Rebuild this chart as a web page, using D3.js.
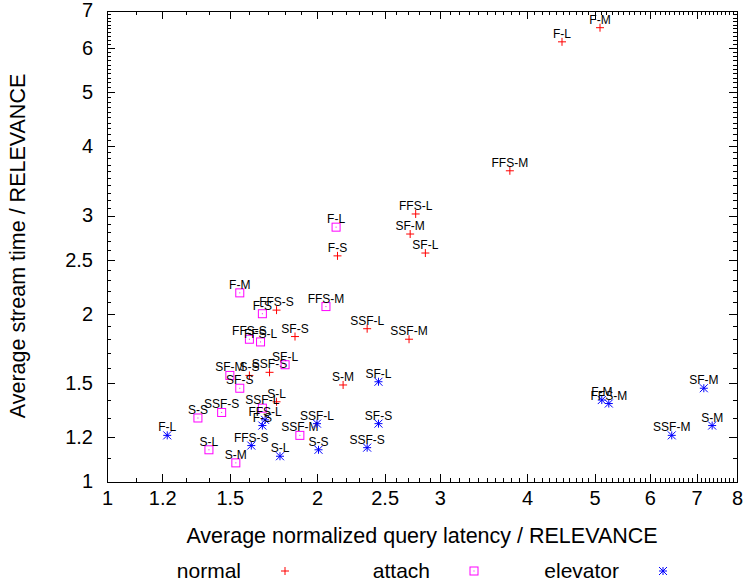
<!DOCTYPE html>
<html>
<head>
<meta charset="utf-8">
<script src="https://cdn.jsdelivr.net/npm/d3@7"></script>
<style>
  body { margin: 0; background: #fff; }
  svg { display: block; font-family: "Liberation Sans", Arial, sans-serif; }
</style>
</head>
<body>
<svg id="chart" width="744" height="586"></svg>
<script>
// series data (x = latency, y = stream time)
const normalLabels = ['F-M', 'F-L', 'FFS-M', 'FFS-L', 'SF-M', 'SF-L', 'F-S', 'FFS-S', 'SSF-L', 'SSF-M', 'SF-S', 'SSF-S', 'S-S', 'S-M', 'S-L'];
const normalX = [5.09, 4.49, 3.78, 2.77, 2.72, 2.86, 2.14, 1.75, 2.36, 2.71, 1.86, 1.71, 1.60, 2.18, 1.75];
const normalY = [6.52, 6.15, 3.61, 3.02, 2.78, 2.57, 2.54, 2.03, 1.88, 1.80, 1.82, 1.57, 1.55, 1.49, 1.39];

const attachLabels = ['F-L', 'F-M', 'F-S', 'FFS-M', 'FFS-S', 'FFS-L', 'SF-L', 'SF-M', 'SF-S', 'S-S', 'SSF-S', 'SSF-L', 'SSF-M', 'S-L', 'S-M'];
const attachX = [2.13, 1.55, 1.67, 2.06, 1.60, 1.66, 1.80, 1.50, 1.55, 1.35, 1.46, 1.67, 1.89, 1.40, 1.53];
const attachY = [2.86, 2.18, 2.00, 2.06, 1.80, 1.78, 1.62, 1.55, 1.47, 1.30, 1.33, 1.354, 1.21, 1.14, 1.08];

const elevatorLabels = ['F-L', 'FFS-S', 'S-L', 'S-S', 'SSF-S', 'SSF-L', 'SF-S', 'SF-L', 'F-S', 'FFS-L', 'F-M', 'FFS-M', 'SSF-M', 'SF-M', 'S-M'];
const elevatorX = [1.22, 1.61, 1.77, 2.01, 2.36, 2.00, 2.45, 2.45, 1.67, 1.685, 5.12, 5.24, 6.45, 7.17, 7.37];
const elevatorY = [1.21, 1.16, 1.11, 1.14, 1.15, 1.27, 1.27, 1.51, 1.26, 1.29, 1.40, 1.38, 1.21, 1.47, 1.26];

const seriesNames = ['normal', 'attach', 'elevator'];
const seriesColors = ['#ff0000', '#ff00ff', '#0000ff'];

const xTicks = [1, 1.2, 1.5, 2, 2.5, 3, 4, 5, 6, 7, 8];
const yTicks = [1, 1.2, 1.5, 2, 2.5, 3, 4, 5, 6, 7];

const xTitle = 'Average normalized query latency / RELEVANCE';
const yTitle = 'Average stream time / RELEVANCE';

const margin = { left: 107, top: 10.5, right: 7, bottom: 104.5 };
const W = 744, H = 586;
const pw = W - margin.left - margin.right;
const ph = H - margin.top - margin.bottom;

const svg = d3.select('#chart');
const g = svg.append('g').attr('transform', `translate(${margin.left},${margin.top})`);

const x = d3.scaleLog().domain([1, 8]).range([0, pw]);
const y = d3.scaleLog().domain([1, 7]).range([ph, 0]);

// minor ticks every 0.1
const minorX = d3.range(11, 80).map(v => v / 10).filter(v => !xTicks.includes(v));
const minorY = d3.range(11, 70).map(v => v / 10).filter(v => !yTicks.includes(v));

function styleAxis(sel) {
  sel.selectAll('path').attr('stroke', '#000').attr('stroke-width', 1);
  sel.selectAll('line').attr('stroke', '#000').attr('stroke-width', 1);
  sel.attr('shape-rendering', 'crispEdges');
}

// bottom
g.append('g').attr('transform', `translate(0,${ph})`)
  .call(d3.axisBottom(x).tickValues(minorX).tickSize(-4).tickSizeOuter(0).tickFormat(''))
  .call(styleAxis);
g.append('g').attr('transform', `translate(0,${ph})`)
  .call(d3.axisBottom(x).tickValues(xTicks).tickSize(-8).tickSizeOuter(0).tickPadding(9).tickFormat(d3.format('')))
  .call(styleAxis)
  .call(a => a.selectAll('text').attr('font-size', 20).attr('fill', '#000').attr('font-family', null));
// top
g.append('g')
  .call(d3.axisTop(x).tickValues(minorX).tickSize(-4).tickSizeOuter(0).tickFormat(''))
  .call(styleAxis);
g.append('g')
  .call(d3.axisTop(x).tickValues(xTicks).tickSize(-8).tickSizeOuter(0).tickFormat(''))
  .call(styleAxis);
// left
g.append('g')
  .call(d3.axisLeft(y).tickValues(minorY).tickSize(-4).tickSizeOuter(0).tickFormat(''))
  .call(styleAxis);
g.append('g')
  .call(d3.axisLeft(y).tickValues(yTicks).tickSize(-8).tickSizeOuter(0).tickPadding(14).tickFormat(d3.format('')))
  .call(styleAxis)
  .call(a => a.selectAll('text').attr('font-size', 20).attr('fill', '#000').attr('font-family', null));
// right
g.append('g').attr('transform', `translate(${pw},0)`)
  .call(d3.axisRight(y).tickValues(minorY).tickSize(-4).tickSizeOuter(0).tickFormat(''))
  .call(styleAxis);
g.append('g').attr('transform', `translate(${pw},0)`)
  .call(d3.axisRight(y).tickValues(yTicks).tickSize(-8).tickSizeOuter(0).tickFormat(''))
  .call(styleAxis);

// axis titles
svg.append('text')
  .attr('x', margin.left + pw / 2).attr('y', 543)
  .attr('text-anchor', 'middle').attr('font-size', 21.5)
  .text(xTitle);
svg.append('text')
  .attr('transform', 'translate(25,246) rotate(-90)')
  .attr('text-anchor', 'middle').attr('font-size', 21.5)
  .text(yTitle);

// point shapes: plus, open square with dot, star
function drawMarker(sel, kind, color) {
  const s = 4;
  if (kind === 0) {
    sel.append('path').attr('d', `M${-s},0H${s}M0,${-s}V${s}`)
      .attr('stroke', color).attr('fill', 'none');
  } else if (kind === 1) {
    sel.append('rect').attr('x', -s).attr('y', -s).attr('width', 2 * s).attr('height', 2 * s)
      .attr('stroke', color).attr('fill', 'none');
    sel.append('rect').attr('x', -0.5).attr('y', -0.5).attr('width', 1).attr('height', 1)
      .attr('fill', color);
  } else {
    sel.append('path').attr('d', `M${-s},0H${s}M0,${-s}V${s}M${-s},${-s}L${s},${s}M${-s},${s}L${s},${-s}`)
      .attr('stroke', color).attr('fill', 'none');
  }
}

const series = [
  { labels: normalLabels, xs: normalX, ys: normalY },
  { labels: attachLabels, xs: attachX, ys: attachY },
  { labels: elevatorLabels, xs: elevatorX, ys: elevatorY }
];

series.forEach((s, i) => {
  const pts = s.labels.map((lab, j) => ({ lab, x: s.xs[j], y: s.ys[j] }));
  const layer = g.append('g');
  layer.selectAll('g.pt')
    .data(pts)
    .join('g')
    .attr('class', 'pt')
    .attr('transform', d => `translate(${x(d.x)},${y(d.y)})`)
    .each(function () { drawMarker(d3.select(this), i, seriesColors[i]); });
  layer.selectAll('text')
    .data(pts)
    .join('text')
    .attr('x', d => x(d.x))
    .attr('y', d => y(d.y) - 4)
    .attr('text-anchor', 'middle')
    .attr('font-size', 12)
    .attr('fill', '#000')
    .text(d => d.lab);
});

// legend
const legendTextX = [241, 430, 619];
const legendMarkX = [285, 474, 663];
seriesNames.forEach((name, i) => {
  svg.append('text')
    .attr('x', legendTextX[i]).attr('y', 578)
    .attr('text-anchor', 'end').attr('font-size', 21)
    .text(name);
  const m = svg.append('g').attr('transform', `translate(${legendMarkX[i]},571)`);
  drawMarker(m, i, seriesColors[i]);
});
</script>
</body>
</html>
